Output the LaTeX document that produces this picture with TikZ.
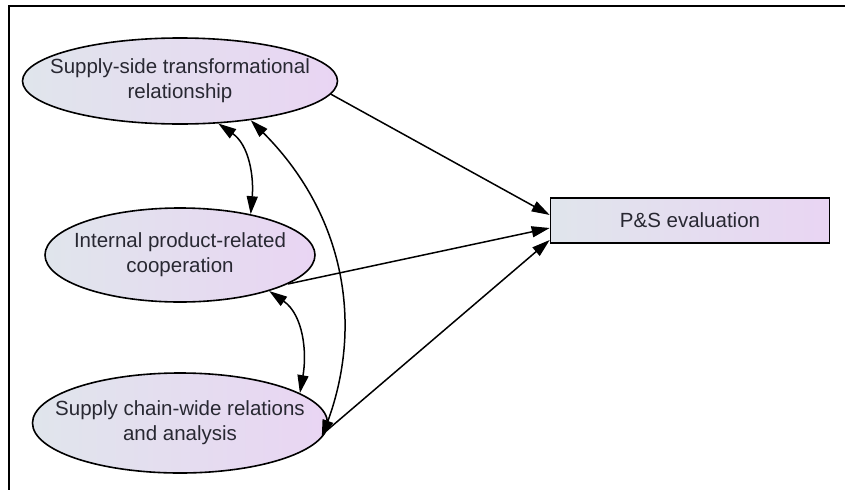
\documentclass[tikz,border=0pt]{standalone}
\usepackage{fontspec}
\setmainfont{Liberation Sans}
\usetikzlibrary{shapes.geometric,arrows.meta}
\definecolor{fillL}{RGB}{224,229,236}
\definecolor{fillR}{RGB}{233,213,243}
\definecolor{txt}{RGB}{40,40,50}
\begin{document}
\begin{tikzpicture}[x=1pt,y=-1pt,
        construct/.style={ellipse,draw,line width=1.6pt,left color=fillL,right color=fillR,inner sep=0pt},
        outcome/.style={rectangle,draw,line width=1.6pt,left color=fillL,right color=fillR,
            minimum width=279pt,minimum height=45pt,inner sep=0pt},
        caption/.style={align=center,text=txt,inner sep=0pt,font=\fontsize{20.5}{25}\selectfont},
        effect/.style={line width=1.5pt,-{Triangle[length=18pt,width=11pt]}},
        corr/.style={line width=1.5pt,{Triangle[length=18pt,width=11pt]}-{Triangle[length=18pt,width=11pt]}}]
        \useasboundingbox (0,0) rectangle (845,490);
        % frame (top and left sides only)
        \draw[line width=2pt] (845,6) -- (9,6) -- (9,490);
        % latent constructs
        \node[construct,minimum width=315pt,minimum height=86pt] (SST) at (180,81) {};
        \node[caption] (SSTl) at (SST) {Supply-side transformational\\relationship};
        \node[construct,minimum width=270pt,minimum height=94pt] (IPC) at (180,255) {};
        \node[caption] (IPCl) at (IPC) {Internal product-related\\cooperation};
        \node[construct,minimum width=295pt,minimum height=100pt] (SCW) at (180,423) {};
        \node[caption] (SCWl) at (SCW) {Supply chain-wide relations\\and analysis};
        % outcome
        \node[outcome] (PSE) at (690,220.5) {};
        \node[caption] (PSEl) at (PSE) {P\&S evaluation};
        % paths
        \draw[effect] (SST.-5) -- ([yshift=5.5pt]PSE.west);
        \draw[effect] (IPC.-15) -- ([yshift=-7.5pt]PSE.west);
        \draw[effect] (SCW.-3) -- ([yshift=-19.5pt]PSE.west);
        % covariances
        \draw[corr] (SST.-48) to[out=-35,in=85] (IPC.30);
        \draw[corr] (IPC.-22) to[out=-35,in=80] (SCW.14);
        \draw[corr] (SST.-29) to[out=-45,in=70] (SCW.-6);
    \end{tikzpicture}
\end{document}
